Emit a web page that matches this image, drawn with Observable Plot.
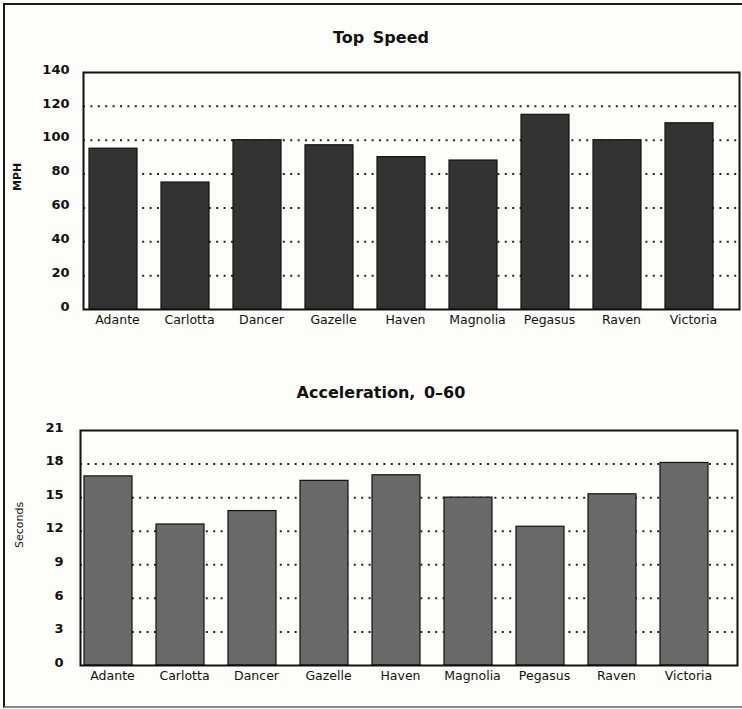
<!DOCTYPE html>
<html>
<head>
<meta charset="utf-8">
<script src="https://cdn.jsdelivr.net/npm/d3@7"></script>
<script src="https://cdn.jsdelivr.net/npm/@observablehq/plot@0.6"></script>
<style>
  html, body { margin: 0; padding: 0; background: #fdfdfa; }
  #page { position: relative; width: 742px; height: 709px; overflow: hidden; background: #fdfdfa; font-family: "DejaVu Sans", sans-serif; }
  #border { position: absolute; left: 3px; top: 3px; width: 800px; height: 701px; border: 2px solid #1a1a1a; border-right: none; border-bottom-color: #888; }
  .title { position: absolute; left: 0; width: 762px; text-align: center; font-weight: bold; font-size: 16px; color: #111; word-spacing: 3px; }
  .chart { position: absolute; left: 0; }
</style>
</head>
<body>
<div id="page">
  <div id="border"></div>
  <div class="title" style="top:28px;">Top Speed</div>
  <div class="chart" id="top" style="top:60px;"></div>
  <div class="title" style="top:383px;">Acceleration, 0–60</div>
  <div class="chart" id="bottom" style="top:415px;"></div>
</div>
<script>
const cars = ["Adante", "Carlotta", "Dancer", "Gazelle", "Haven", "Magnolia", "Pegasus", "Raven", "Victoria"];
const topSpeed = [95, 75, 100, 97, 90, 88, 115, 100, 110];
const acceleration = [16.9, 12.6, 13.8, 16.5, 17.0, 15.0, 12.4, 15.3, 18.1];
const speedTicks = [0, 20, 40, 60, 80, 100, 120, 140];
const speedGrid = [20, 40, 60, 80, 100, 120];
const accelTicks = [0, 3, 6, 9, 12, 15, 18, 21];
const accelGrid = [3, 6, 9, 12, 15, 18];

const speedData = cars.map((name, i) => ({name, value: topSpeed[i]}));
const accelData = cars.map((name, i) => ({name, value: acceleration[i]}));

const font = "DejaVu Sans, sans-serif";

function chart({data, domain, ticks, grid, fill, label, labelDx, labelWeight, height, marginTop, marginBottom, marginLeft, marginRight, xRange, tickPadY}) {
  return Plot.plot({
    width: 742,
    height,
    marginTop, marginBottom, marginLeft, marginRight,
    style: {fontFamily: font, background: "transparent", color: "#111"},
    x: {domain: cars, range: xRange, paddingInner: 0.335, paddingOuter: 0},
    y: {domain, range: [height - marginBottom, marginTop]},
    marks: [
      Plot.ruleY(grid, {stroke: "#222", strokeWidth: 2, strokeDasharray: "2,5.4"}),
      Plot.barY(data, {x: "name", y: "value", fill, stroke: "#111", strokeWidth: 1.2}),
      Plot.frame({stroke: "#111", strokeWidth: 2}),
      Plot.axisY({ticks, tickSize: 0, tickPadding: tickPadY, dy: -3, fontSize: 13, fontWeight: "bold", label: null}),
      Plot.axisX({tickSize: 0, tickPadding: 6, dx: 4, fontSize: 12.5, label: null}),
      Plot.text([label], {frameAnchor: "left", rotate: -90, dx: labelDx, fontSize: 11, fontWeight: labelWeight, fill: "#111"})
    ]
  });
}

document.getElementById("top").append(chart({
  data: speedData, domain: [0, 140], ticks: speedTicks, grid: speedGrid,
  fill: "#333333", label: "MPH", labelDx: -66, labelWeight: "bold",
  height: 270, marginTop: 12, marginBottom: 21, marginLeft: 83, marginRight: 3,
  xRange: [85, 716], tickPadY: 14
}));

document.getElementById("bottom").append(chart({
  data: accelData, domain: [0, 21], ticks: accelTicks, grid: accelGrid,
  fill: "#6a6a6a", label: "Seconds", labelDx: -61, labelWeight: "normal",
  height: 275, marginTop: 15, marginBottom: 25, marginLeft: 80, marginRight: 5,
  xRange: [80, 712], tickPadY: 17
}));
</script>
</body>
</html>
